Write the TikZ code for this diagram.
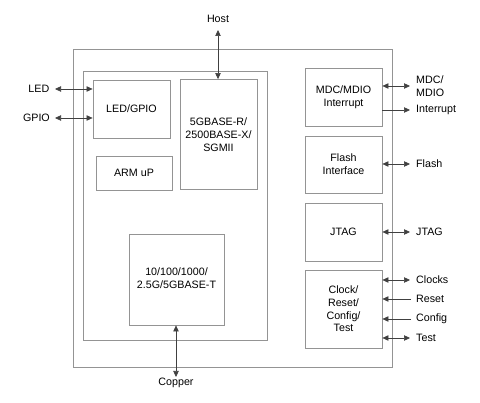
\documentclass[tikz,border=0pt]{standalone}
\usepackage{fontspec}
\setmainfont{Liberation Sans}
\usetikzlibrary{arrows.meta}
\tikzset{ptip/.tip={Triangle[length=6pt,width=5.4pt]}}
\begin{document}
\begin{tikzpicture}[x=1pt,y=-1pt,
  blk/.style={draw=black!42,line width=0.8pt,inner sep=0pt,align=center,
    font=\fontsize{10.7}{12.7}\selectfont},
  lbl/.style={inner sep=0pt,align=left,font=\fontsize{10.7}{12.7}\selectfont},
  dbl/.style={ptip-ptip,draw=black!75,line width=0.6pt},
  one/.style={-ptip,draw=black!75,line width=0.6pt}]
\useasboundingbox (0,0) rectangle (480,403);
% containers
\node[blk,minimum width=319,minimum height=318] (outer) at (232.5,208) {};
\node[blk,minimum width=184,minimum height=269] (inner) at (175,205.5) {};
% blocks
\node[blk,minimum width=77,minimum height=58] (ledgpio) at (131.5,109) {LED/GPIO};
\node[blk,minimum width=77,minimum height=110] (serdes) at (218.5,134.5) {5GBASE-R/\\2500BASE-X/\\SGMII};
\node[blk,minimum width=76,minimum height=34] (arm) at (134,173) {ARM uP};
\node[blk,minimum width=95,minimum height=91] (phy) at (176.5,279.5) {};
\node[blk,draw=none] (phytxt) at (176.5,278) {10/100/1000/\\2.5G/5GBASE-T};
\node[blk,minimum width=77,minimum height=58] (mdc) at (343.5,97) {MDC/MDIO\\Interrupt};
\node[blk,minimum width=77,minimum height=57] (flash) at (343.5,164.5) {Flash\\Interface};
\node[blk,minimum width=77,minimum height=58] (jtag) at (343.5,232) {JTAG};
\node[blk,minimum width=77,minimum height=78] (clk) at (343.5,309) {Clock/\\Reset/\\Config/\\Test};
% labels
\node[lbl] (host) at (218,19) {Host};
\node[lbl] (copper) at (176,383) {Copper};
\node[lbl,anchor=east] (led) at (49.5,89) {LED};
\node[lbl,anchor=east] (gpio) at (50,118) {GPIO};
\node[lbl,anchor=west] (mdio) at (416,86) {MDC/\\MDIO};
\node[lbl,anchor=west] (intr) at (416,110) {Interrupt};
\node[lbl,anchor=west] (fl) at (416,164) {Flash};
\node[lbl,anchor=west] (jt) at (416,232) {JTAG};
\node[lbl,anchor=west] (clks) at (416,280) {Clocks};
\node[lbl,anchor=west] (rst) at (416,299) {Reset};
\node[lbl,anchor=west] (cfg) at (416,319) {Config};
\node[lbl,anchor=west] (tst) at (416,338) {Test};
% free ends
\coordinate (hostend) at (218,30);
\coordinate (copend) at (176,377);
\coordinate (ledend) at (55,89);
\coordinate (gpioend) at (55,118);
\coordinate (rend) at (410,0);
\coordinate (rend2) at (411,0);
% connectors
\draw[dbl] (hostend) -- (hostend |- serdes.north);
\draw[dbl] (phy.south -| copend) -- (copend);
\draw[dbl] (ledend) -- (ledend -| ledgpio.west);
\draw[dbl] (gpioend) -- (gpioend -| ledgpio.west);
\draw[dbl] (mdc.east |- mdio) -- (rend |- mdio);
\draw[one] (mdc.east |- intr) -- (rend |- intr);
\draw[dbl] (flash.east |- fl) -- (rend |- fl);
\draw[dbl] (jtag.east |- jt) -- (rend |- jt);
\draw[dbl] (clk.east |- clks) -- (rend |- clks);
\draw[one] (rend2 |- rst) -- (clk.east |- rst);
\draw[one] (rend2 |- cfg) -- (clk.east |- cfg);
\draw[dbl] (clk.east |- tst) -- (rend |- tst);
\end{tikzpicture}
\end{document}
